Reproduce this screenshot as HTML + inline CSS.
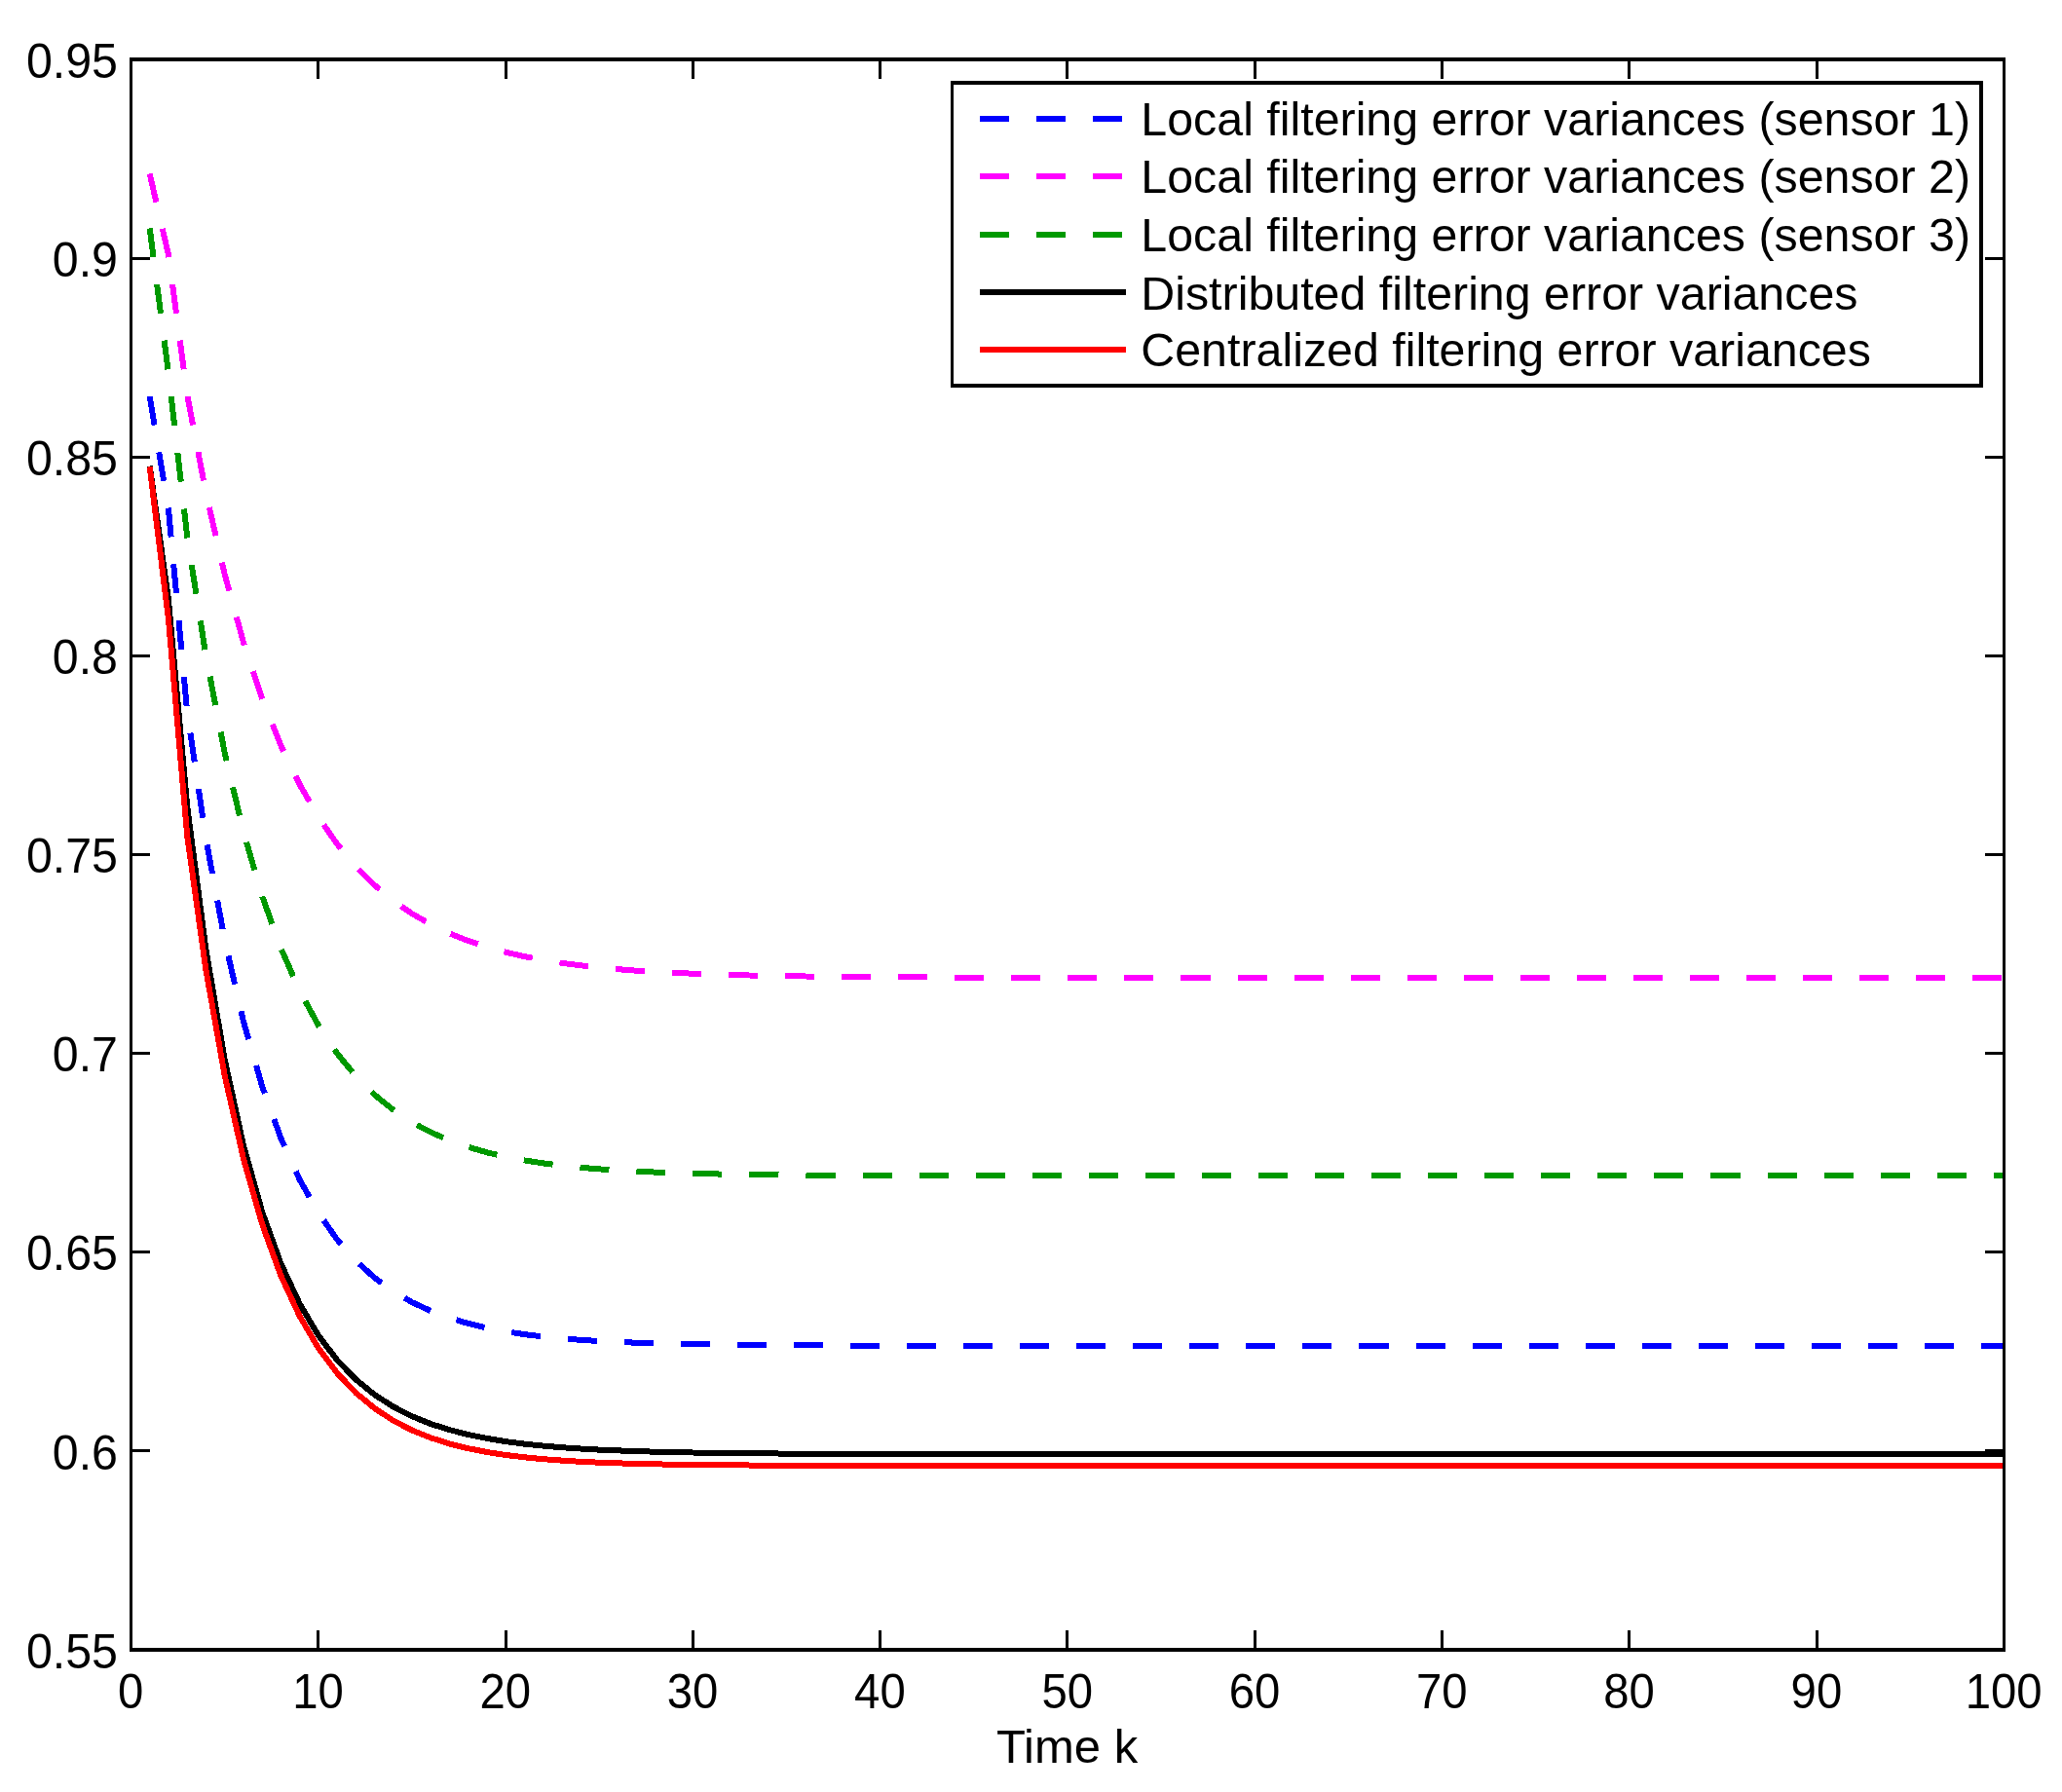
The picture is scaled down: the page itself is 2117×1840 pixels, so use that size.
<!DOCTYPE html>
<html lang="en"><head><meta charset="utf-8"><title>Filtering error variances</title>
<style>html,body{margin:0;padding:0;background:#fff;}svg{display:block;}text{font-family:"Liberation Sans",Arial,Helvetica,sans-serif;font-size:48.35px;fill:#000;}</style>
</head><body>
<svg width="2117" height="1840" viewBox="0 0 2117 1840">
<rect x="0" y="0" width="2117" height="1840" fill="#ffffff"/>
<defs><clipPath id="ax"><rect x="134.5" y="61.0" width="1924.5" height="1633.0"/></clipPath></defs>
<g clip-path="url(#ax)" fill="none" stroke-width="6.0" stroke-linejoin="round" shape-rendering="crispEdges">
<path d="M153.7,407.0 L173.0,523.0 L192.2,731.0 L211.4,861.2 L230.7,965.3 L249.9,1048.6 L269.1,1115.2 L288.3,1168.5 L307.6,1211.2 L326.8,1245.3 L346.0,1272.6 L365.3,1294.5 L384.5,1311.9 L403.7,1325.9 L422.9,1337.1 L442.2,1346.0 L461.4,1353.2 L480.6,1358.9 L499.9,1363.5 L519.1,1367.1 L538.3,1370.1 L557.6,1372.4 L576.8,1374.3 L596.0,1375.8 L615.2,1377.0 L634.5,1378.0 L653.7,1378.7 L672.9,1379.3 L692.2,1379.8 L711.4,1380.2 L730.6,1380.5 L749.9,1380.8 L769.1,1381.0 L788.3,1381.2 L807.6,1381.3 L826.8,1381.4 L846.0,1381.5 L865.2,1381.5 L884.5,1381.6 L903.7,1381.6 L922.9,1381.7 L942.2,1381.7 L961.4,1381.7 L980.6,1381.7 L999.9,1381.7 L1019.1,1381.8 L1038.3,1381.8 L1057.5,1381.8 L1076.8,1381.8 L1096.0,1381.8 L1115.2,1381.8 L1134.5,1381.8 L1153.7,1381.8 L1172.9,1381.8 L1192.2,1381.8 L1211.4,1381.8 L1230.6,1381.8 L1249.8,1381.8 L1269.1,1381.8 L1288.3,1381.8 L1307.5,1381.8 L1326.8,1381.8 L1346.0,1381.8 L1365.2,1381.8 L1384.5,1381.8 L1403.7,1381.8 L1422.9,1381.8 L1442.1,1381.8 L1461.4,1381.8 L1480.6,1381.8 L1499.8,1381.8 L1519.1,1381.8 L1538.3,1381.8 L1557.5,1381.8 L1576.8,1381.8 L1596.0,1381.8 L1615.2,1381.8 L1634.4,1381.8 L1653.7,1381.8 L1672.9,1381.8 L1692.1,1381.8 L1711.4,1381.8 L1730.6,1381.8 L1749.8,1381.8 L1769.0,1381.8 L1788.3,1381.8 L1807.5,1381.8 L1826.7,1381.8 L1846.0,1381.8 L1865.2,1381.8 L1884.4,1381.8 L1903.7,1381.8 L1922.9,1381.8 L1942.1,1381.8 L1961.4,1381.8 L1980.6,1381.8 L1999.8,1381.8 L2019.0,1381.8 L2038.3,1381.8 L2057.5,1381.8" stroke="#0000ff" stroke-dasharray="30.03 28.03"/>
<path d="M153.7,178.3 L173.0,261.9 L192.2,405.5 L211.4,506.0 L230.7,589.7 L249.9,659.3 L269.1,717.2 L288.3,765.3 L307.6,805.4 L326.8,838.8 L346.0,866.5 L365.3,889.6 L384.5,908.8 L403.7,924.8 L422.9,938.1 L442.2,949.1 L461.4,958.3 L480.6,966.0 L499.9,972.4 L519.1,977.7 L538.3,982.1 L557.6,985.7 L576.8,988.8 L596.0,991.3 L615.2,993.4 L634.5,995.2 L653.7,996.7 L672.9,997.9 L692.2,998.9 L711.4,999.7 L730.6,1000.4 L749.9,1001.0 L769.1,1001.5 L788.3,1001.9 L807.6,1002.2 L826.8,1002.5 L846.0,1002.7 L865.2,1002.9 L884.5,1003.1 L903.7,1003.2 L922.9,1003.3 L942.2,1003.4 L961.4,1003.5 L980.6,1003.6 L999.9,1003.6 L1019.1,1003.7 L1038.3,1003.7 L1057.5,1003.7 L1076.8,1003.8 L1096.0,1003.8 L1115.2,1003.8 L1134.5,1003.8 L1153.7,1003.8 L1172.9,1003.8 L1192.2,1003.9 L1211.4,1003.9 L1230.6,1003.9 L1249.8,1003.9 L1269.1,1003.9 L1288.3,1003.9 L1307.5,1003.9 L1326.8,1003.9 L1346.0,1003.9 L1365.2,1003.9 L1384.5,1003.9 L1403.7,1003.9 L1422.9,1003.9 L1442.1,1003.9 L1461.4,1003.9 L1480.6,1003.9 L1499.8,1003.9 L1519.1,1003.9 L1538.3,1003.9 L1557.5,1003.9 L1576.8,1003.9 L1596.0,1003.9 L1615.2,1003.9 L1634.4,1003.9 L1653.7,1003.9 L1672.9,1003.9 L1692.1,1003.9 L1711.4,1003.9 L1730.6,1003.9 L1749.8,1003.9 L1769.0,1003.9 L1788.3,1003.9 L1807.5,1003.9 L1826.7,1003.9 L1846.0,1003.9 L1865.2,1003.9 L1884.4,1003.9 L1903.7,1003.9 L1922.9,1003.9 L1942.1,1003.9 L1961.4,1003.9 L1980.6,1003.9 L1999.8,1003.9 L2019.0,1003.9 L2038.3,1003.9 L2057.5,1003.9" stroke="#ff00ff" stroke-dasharray="30.03 28.03"/>
<path d="M153.7,234.4 L173.0,383.5 L192.2,551.0 L211.4,673.4 L230.7,773.0 L249.9,854.0 L269.1,919.9 L288.3,973.5 L307.6,1017.2 L326.8,1052.6 L346.0,1081.5 L365.3,1105.0 L384.5,1124.1 L403.7,1139.6 L422.9,1152.3 L442.2,1162.5 L461.4,1170.9 L480.6,1177.7 L499.9,1183.3 L519.1,1187.8 L538.3,1191.4 L557.6,1194.4 L576.8,1196.8 L596.0,1198.8 L615.2,1200.4 L634.5,1201.7 L653.7,1202.8 L672.9,1203.6 L692.2,1204.3 L711.4,1204.9 L730.6,1205.4 L749.9,1205.7 L769.1,1206.1 L788.3,1206.3 L807.6,1206.5 L826.8,1206.7 L846.0,1206.8 L865.2,1206.9 L884.5,1207.0 L903.7,1207.1 L922.9,1207.1 L942.2,1207.2 L961.4,1207.2 L980.6,1207.3 L999.9,1207.3 L1019.1,1207.3 L1038.3,1207.3 L1057.5,1207.3 L1076.8,1207.4 L1096.0,1207.4 L1115.2,1207.4 L1134.5,1207.4 L1153.7,1207.4 L1172.9,1207.4 L1192.2,1207.4 L1211.4,1207.4 L1230.6,1207.4 L1249.8,1207.4 L1269.1,1207.4 L1288.3,1207.4 L1307.5,1207.4 L1326.8,1207.4 L1346.0,1207.4 L1365.2,1207.4 L1384.5,1207.4 L1403.7,1207.4 L1422.9,1207.4 L1442.1,1207.4 L1461.4,1207.4 L1480.6,1207.4 L1499.8,1207.4 L1519.1,1207.4 L1538.3,1207.4 L1557.5,1207.4 L1576.8,1207.4 L1596.0,1207.4 L1615.2,1207.4 L1634.4,1207.4 L1653.7,1207.4 L1672.9,1207.4 L1692.1,1207.4 L1711.4,1207.4 L1730.6,1207.4 L1749.8,1207.4 L1769.0,1207.4 L1788.3,1207.4 L1807.5,1207.4 L1826.7,1207.4 L1846.0,1207.4 L1865.2,1207.4 L1884.4,1207.4 L1903.7,1207.4 L1922.9,1207.4 L1942.1,1207.4 L1961.4,1207.4 L1980.6,1207.4 L1999.8,1207.4 L2019.0,1207.4 L2038.3,1207.4 L2057.5,1207.4" stroke="#009900" stroke-dasharray="30.03 28.03"/>
<path d="M153.7,478.5 L173.0,616.0 L192.2,828.2 L211.4,974.7 L230.7,1088.0 L249.9,1175.8 L269.1,1244.1 L288.3,1297.2 L307.6,1338.6 L326.8,1371.0 L346.0,1396.4 L365.3,1416.4 L384.5,1432.0 L403.7,1444.4 L422.9,1454.2 L442.2,1462.0 L461.4,1468.1 L480.6,1473.0 L499.9,1476.9 L519.1,1480.1 L538.3,1482.6 L557.6,1484.6 L576.8,1486.2 L596.0,1487.5 L615.2,1488.6 L634.5,1489.4 L653.7,1490.1 L672.9,1490.7 L692.2,1491.1 L711.4,1491.5 L730.6,1491.8 L749.9,1492.1 L769.1,1492.3 L788.3,1492.4 L807.6,1492.6 L826.8,1492.7 L846.0,1492.8 L865.2,1492.9 L884.5,1492.9 L903.7,1493.0 L922.9,1493.0 L942.2,1493.1 L961.4,1493.1 L980.6,1493.1 L999.9,1493.2 L1019.1,1493.2 L1038.3,1493.2 L1057.5,1493.2 L1076.8,1493.2 L1096.0,1493.2 L1115.2,1493.2 L1134.5,1493.2 L1153.7,1493.3 L1172.9,1493.3 L1192.2,1493.3 L1211.4,1493.3 L1230.6,1493.3 L1249.8,1493.3 L1269.1,1493.3 L1288.3,1493.3 L1307.5,1493.3 L1326.8,1493.3 L1346.0,1493.3 L1365.2,1493.3 L1384.5,1493.3 L1403.7,1493.3 L1422.9,1493.3 L1442.1,1493.3 L1461.4,1493.3 L1480.6,1493.3 L1499.8,1493.3 L1519.1,1493.3 L1538.3,1493.3 L1557.5,1493.3 L1576.8,1493.3 L1596.0,1493.3 L1615.2,1493.3 L1634.4,1493.3 L1653.7,1493.3 L1672.9,1493.3 L1692.1,1493.3 L1711.4,1493.3 L1730.6,1493.3 L1749.8,1493.3 L1769.0,1493.3 L1788.3,1493.3 L1807.5,1493.3 L1826.7,1493.3 L1846.0,1493.3 L1865.2,1493.3 L1884.4,1493.3 L1903.7,1493.3 L1922.9,1493.3 L1942.1,1493.3 L1961.4,1493.3 L1980.6,1493.3 L1999.8,1493.3 L2019.0,1493.3 L2038.3,1493.3 L2057.5,1493.3" stroke="#000000"/>
<path d="M153.7,479.3 L173.0,636.0 L192.2,858.0 L211.4,995.8 L230.7,1104.3 L249.9,1189.6 L269.1,1256.8 L288.3,1309.7 L307.6,1351.3 L326.8,1384.0 L346.0,1409.8 L365.3,1430.1 L384.5,1446.0 L403.7,1458.6 L422.9,1468.5 L442.2,1476.3 L461.4,1482.4 L480.6,1487.2 L499.9,1491.0 L519.1,1494.0 L538.3,1496.3 L557.6,1498.2 L576.8,1499.6 L596.0,1500.8 L615.2,1501.7 L634.5,1502.4 L653.7,1502.9 L672.9,1503.4 L692.2,1503.7 L711.4,1504.0 L730.6,1504.2 L749.9,1504.4 L769.1,1504.5 L788.3,1504.6 L807.6,1504.7 L826.8,1504.8 L846.0,1504.8 L865.2,1504.9 L884.5,1504.9 L903.7,1504.9 L922.9,1504.9 L942.2,1504.9 L961.4,1505.0 L980.6,1505.0 L999.9,1505.0 L1019.1,1505.0 L1038.3,1505.0 L1057.5,1505.0 L1076.8,1505.0 L1096.0,1505.0 L1115.2,1505.0 L1134.5,1505.0 L1153.7,1505.0 L1172.9,1505.0 L1192.2,1505.0 L1211.4,1505.0 L1230.6,1505.0 L1249.8,1505.0 L1269.1,1505.0 L1288.3,1505.0 L1307.5,1505.0 L1326.8,1505.0 L1346.0,1505.0 L1365.2,1505.0 L1384.5,1505.0 L1403.7,1505.0 L1422.9,1505.0 L1442.1,1505.0 L1461.4,1505.0 L1480.6,1505.0 L1499.8,1505.0 L1519.1,1505.0 L1538.3,1505.0 L1557.5,1505.0 L1576.8,1505.0 L1596.0,1505.0 L1615.2,1505.0 L1634.4,1505.0 L1653.7,1505.0 L1672.9,1505.0 L1692.1,1505.0 L1711.4,1505.0 L1730.6,1505.0 L1749.8,1505.0 L1769.0,1505.0 L1788.3,1505.0 L1807.5,1505.0 L1826.7,1505.0 L1846.0,1505.0 L1865.2,1505.0 L1884.4,1505.0 L1903.7,1505.0 L1922.9,1505.0 L1942.1,1505.0 L1961.4,1505.0 L1980.6,1505.0 L1999.8,1505.0 L2019.0,1505.0 L2038.3,1505.0 L2057.5,1505.0" stroke="#ff0000"/>
</g>
<g fill="#000" shape-rendering="crispEdges">
<rect x="133" y="59" width="1926" height="4"/>
<rect x="133" y="1692" width="1926" height="4"/>
<rect x="133" y="59" width="3" height="1637"/>
<rect x="2056" y="59" width="3" height="1637"/>
<rect x="325" y="63" width="3" height="18"/>
<rect x="325" y="1674" width="3" height="18"/>
<rect x="518" y="63" width="3" height="18"/>
<rect x="518" y="1674" width="3" height="18"/>
<rect x="710" y="63" width="3" height="18"/>
<rect x="710" y="1674" width="3" height="18"/>
<rect x="902" y="63" width="3" height="18"/>
<rect x="902" y="1674" width="3" height="18"/>
<rect x="1094" y="63" width="3" height="18"/>
<rect x="1094" y="1674" width="3" height="18"/>
<rect x="1287" y="63" width="3" height="18"/>
<rect x="1287" y="1674" width="3" height="18"/>
<rect x="1479" y="63" width="3" height="18"/>
<rect x="1479" y="1674" width="3" height="18"/>
<rect x="1671" y="63" width="3" height="18"/>
<rect x="1671" y="1674" width="3" height="18"/>
<rect x="1864" y="63" width="3" height="18"/>
<rect x="1864" y="1674" width="3" height="18"/>
<rect x="136" y="264" width="18" height="3"/>
<rect x="2038" y="264" width="18" height="3"/>
<rect x="136" y="468" width="18" height="3"/>
<rect x="2038" y="468" width="18" height="3"/>
<rect x="136" y="672" width="18" height="3"/>
<rect x="2038" y="672" width="18" height="3"/>
<rect x="136" y="876" width="18" height="3"/>
<rect x="2038" y="876" width="18" height="3"/>
<rect x="136" y="1080" width="18" height="3"/>
<rect x="2038" y="1080" width="18" height="3"/>
<rect x="136" y="1284" width="18" height="3"/>
<rect x="2038" y="1284" width="18" height="3"/>
<rect x="136" y="1488" width="18" height="3"/>
<rect x="2038" y="1488" width="18" height="3"/>
</g>
<g text-anchor="end">
<text transform="translate(121.0,79.6) scale(1,1.035)">0.95</text>
<text transform="translate(121.0,283.7) scale(1,1.035)">0.9</text>
<text transform="translate(121.0,487.9) scale(1,1.035)">0.85</text>
<text transform="translate(121.0,692.0) scale(1,1.035)">0.8</text>
<text transform="translate(121.0,896.1) scale(1,1.035)">0.75</text>
<text transform="translate(121.0,1100.2) scale(1,1.035)">0.7</text>
<text transform="translate(121.0,1304.3) scale(1,1.035)">0.65</text>
<text transform="translate(121.0,1508.5) scale(1,1.035)">0.6</text>
<text transform="translate(121.0,1712.6) scale(1,1.035)">0.55</text>
</g>
<g text-anchor="middle">
<text transform="translate(134.2,1753.6) scale(0.978,1.035)">0</text>
<text transform="translate(326.5,1753.6) scale(0.978,1.035)">10</text>
<text transform="translate(518.8,1753.6) scale(0.978,1.035)">20</text>
<text transform="translate(711.1,1753.6) scale(0.978,1.035)">30</text>
<text transform="translate(903.4,1753.6) scale(0.978,1.035)">40</text>
<text transform="translate(1095.7,1753.6) scale(0.978,1.035)">50</text>
<text transform="translate(1288.0,1753.6) scale(0.978,1.035)">60</text>
<text transform="translate(1480.3,1753.6) scale(0.978,1.035)">70</text>
<text transform="translate(1672.6,1753.6) scale(0.978,1.035)">80</text>
<text transform="translate(1864.9,1753.6) scale(0.978,1.035)">90</text>
<text transform="translate(2057.2,1753.6) scale(0.978,1.035)">100</text>
<text x="1095.6" y="1810.0" style="font-size:49px">Time k</text>
</g>
<g shape-rendering="crispEdges"><rect x="976" y="83" width="1060" height="315" fill="#000"/><rect x="979" y="87" width="1053" height="307" fill="#fff"/></g>
<path d="M1005.8,121.8 H1155.9" stroke="#0000ff" stroke-width="6.3" fill="none" stroke-dasharray="30 28" shape-rendering="crispEdges"/>
<text x="1171.3" y="139.2">Local filtering error variances (sensor 1)</text>
<path d="M1005.8,181.0 H1155.9" stroke="#ff00ff" stroke-width="6.3" fill="none" stroke-dasharray="30 28" shape-rendering="crispEdges"/>
<text x="1171.3" y="198.4">Local filtering error variances (sensor 2)</text>
<path d="M1005.8,240.7 H1155.9" stroke="#009900" stroke-width="6.3" fill="none" stroke-dasharray="30 28" shape-rendering="crispEdges"/>
<text x="1171.3" y="258.1">Local filtering error variances (sensor 3)</text>
<path d="M1005.8,300.1 H1155.9" stroke="#000000" stroke-width="6.3" fill="none" shape-rendering="crispEdges"/>
<text x="1171.3" y="317.5">Distributed filtering error variances</text>
<path d="M1005.8,358.8 H1155.9" stroke="#ff0000" stroke-width="6.3" fill="none" shape-rendering="crispEdges"/>
<text x="1171.3" y="376.2">Centralized filtering error variances</text>
</svg>
</body></html>
